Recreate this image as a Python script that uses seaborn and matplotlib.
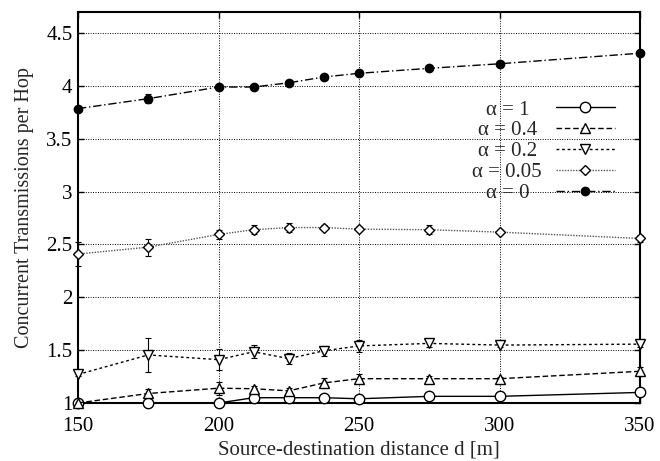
import numpy as np
import pandas as pd
import matplotlib
matplotlib.use("Agg")
import matplotlib.pyplot as plt
from matplotlib.ticker import FormatStrFormatter
import seaborn as sns

# distance values on the x axis
distance = [150, 175, 200, 212.5, 225, 237.5, 250, 275, 300, 350]

# concurrent transmissions per hop, one list per alpha
alpha_1 = [1.00, 1.00, 1.00, 1.05, 1.05, 1.05, 1.04, 1.063, 1.063, 1.10]
alpha_1_err = [0.0, 0.0, 0.0, 0.01, 0.01, 0.01, 0.01, 0.01, 0.01, 0.01]
alpha_04 = [1.00, 1.09, 1.14, 1.135, 1.115, 1.19, 1.23, 1.23, 1.23, 1.30]
alpha_04_err = [0.0, 0.04, 0.06, 0.03, 0.03, 0.05, 0.04, 0.03, 0.02, 0.04]
alpha_02 = [1.27, 1.455, 1.41, 1.485, 1.42, 1.494, 1.54, 1.564, 1.548, 1.557]
alpha_02_err = [0.01, 0.16, 0.10, 0.06, 0.05, 0.05, 0.055, 0.03, 0.02, 0.03]
alpha_005 = [2.41, 2.475, 2.595, 2.64, 2.66, 2.66, 2.645, 2.64, 2.617, 2.557]
alpha_005_err = [0.11, 0.08, 0.04, 0.04, 0.04, 0.02, 0.02, 0.04, 0.02, 0.03]
alpha_0 = [3.786, 3.88, 3.99, 3.99, 4.03, 4.085, 4.12, 4.167, 4.21, 4.31]
alpha_0_err = [0.01, 0.04, 0.015, 0.01, 0.01, 0.01, 0.01, 0.01, 0.01, 0.01]

labels = ["α = 1", "α = 0.4", "α = 0.2", "α = 0.05", "α = 0"]
series = [alpha_1, alpha_04, alpha_02, alpha_005, alpha_0]
errors = [alpha_1_err, alpha_04_err, alpha_02_err, alpha_005_err, alpha_0_err]

# line / marker styles per series
styles = [
    dict(ls="-", marker="o", ms=7.5, mfc="white", color="black"),
    dict(ls=(0, (4, 2)), marker="^", ms=7, mfc="white", color="black"),
    dict(ls=(0, (2, 2)), marker="v", ms=7, mfc="white", color="black"),
    dict(ls=(0, (1, 1)), marker="D", ms=5.5, mfc="white", color="#555555"),
    dict(ls=(0, (6, 2, 1, 2)), marker="o", ms=6, mfc="black", color="black"),
]

sns.set_style("ticks")
plt.rcParams["font.family"] = ["Liberation Serif", "DejaVu Serif"]

fig = plt.figure(figsize=(6.6, 4.61), dpi=100)
ax = fig.add_axes([78 / 660, 1 - 403 / 461, 562 / 660, 391 / 461])

handles = []
for lab, vals, err, st in zip(labels, series, errors, styles):
    df = pd.DataFrame({"d": distance, "v": vals})
    ax.errorbar(distance, vals, yerr=err, fmt="none", ecolor="black",
                elinewidth=0.8, capsize=2.5, capthick=0.8, zorder=2,
                clip_on=False)
    sns.lineplot(data=df, x="d", y="v", ax=ax, color=st["color"],
                 linestyle=st["ls"], linewidth=1.0, marker=st["marker"],
                 markersize=st["ms"], markerfacecolor=st["mfc"],
                 markeredgecolor="black", markeredgewidth=1.0, zorder=3,
                 clip_on=False)
    handles.append(ax.lines[-1])

ax.set_xlim(150, 350)
ax.set_ylim(1, 4.7)
ax.set_xticks([150, 200, 250, 300, 350])
ax.set_yticks([1, 1.5, 2, 2.5, 3, 3.5, 4, 4.5])
ax.yaxis.set_major_formatter(FormatStrFormatter("%g"))
ax.grid(True, color="black", linestyle=(0, (1, 1.5)), linewidth=0.7)
ax.tick_params(direction="in", top=True, right=True, labelsize=15,
               length=4, width=1, colors="black")
ax.tick_params(axis="x", pad=10)
ax.tick_params(axis="y", pad=4)
for sp in ax.spines.values():
    sp.set_linewidth(1.5)
    sp.set_color("black")

ax.set_xlabel("Source-destination distance d [m]", fontsize=15, labelpad=3)
ax.set_ylabel("Concurrent Transmissions per Hop", fontsize=14.5, labelpad=9)

leg = ax.legend(handles, labels, loc="upper right", frameon=False,
                markerfirst=False, fontsize=15, borderpad=0, borderaxespad=0,
                handlelength=2.85, handletextpad=0.65, labelspacing=0.06,
                bbox_to_anchor=(615 / 660, 1 - 100 / 461),
                bbox_transform=fig.transFigure)

# centre the labels on one another, as in the original key
fig.canvas.draw()
renderer = fig.canvas.get_renderer()
widths = [t.get_window_extent(renderer).width for t in leg.get_texts()]
for t, w in zip(leg.get_texts(), widths):
    t.set_position((-(max(widths) - w) / 2, 0))

fig.savefig("out.png", dpi=100)
